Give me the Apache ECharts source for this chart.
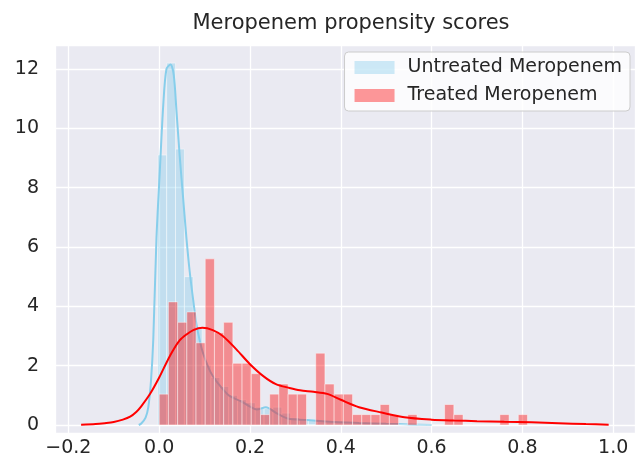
<!DOCTYPE html>
<html>
<head>
<meta charset="utf-8">
<script src="https://cdn.jsdelivr.net/npm/echarts@6/dist/echarts.min.js"></script>
<style>
  html, body { margin: 0; padding: 0; background: #fff; }
  #chart { width: 635px; height: 460px; }
</style>
</head>
<body>
<div id="chart"></div>
<script>
  // treated histogram: 40 equal bins starting at 0.0
  var treatedStart = 0.0
  var treatedWidth = 0.02028
  var treatedHeights = [1.04, 4.15, 3.46, 3.81, 2.77, 5.6, 3.11, 3.46, 2.08, 2.08,
    1.73, 0.35, 1.04, 1.38, 1.04, 1.04, 0, 2.42, 1.38, 1.04,
    1.04, 0.35, 0.35, 0.35, 0.69, 0.35, 0, 0.35, 0, 0,
    0, 0.69, 0.35, 0, 0, 0, 0, 0.35, 0, 0.35]

  // untreated histogram
  var untreatedStart = -0.003
  var untreatedWidth = 0.0195
  var untreatedHeights = [9.1, 12.2, 9.3, 5.0, 3.3, 2.0, 1.6, 1.3, 1.0, 0.85,
    0.75, 0.6, 0.55, 0.6, 0.4, 0.25, 0.2, 0.18, 0.15, 0.1,
    0.12, 0.08, 0.06, 0.05, 0.05, 0.03, 0.03, 0.02]

  // kde curves
  var treatedKdeX = [-0.172, -0.14, -0.12, -0.10, -0.08, -0.064, -0.05, -0.04, -0.02, 0.0,
    0.016, 0.03, 0.045, 0.06, 0.075, 0.095, 0.118, 0.14, 0.17, 0.2,
    0.23, 0.257, 0.287, 0.31, 0.34, 0.37, 0.40, 0.44, 0.49, 0.54,
    0.6, 0.65, 0.7, 0.76, 0.82, 0.88, 0.94, 0.99]
  var treatedKdeY = [0.01, 0.03, 0.06, 0.1, 0.18, 0.28, 0.45, 0.62, 1.05, 1.6,
    2.1, 2.5, 2.85, 3.05, 3.2, 3.28, 3.2, 3.0, 2.55, 2.05,
    1.64, 1.38, 1.25, 1.17, 1.12, 1.05, 0.85, 0.6, 0.42, 0.26,
    0.18, 0.15, 0.13, 0.11, 0.09, 0.06, 0.03, 0.01]

  var untreatedKdeX = [-0.045, -0.039, -0.03, -0.024, -0.018, -0.013, -0.006, 0.0015, 0.009, 0.016,
    0.025, 0.032, 0.038, 0.045, 0.053, 0.06, 0.067, 0.075, 0.082, 0.09,
    0.097, 0.108, 0.118, 0.135, 0.155, 0.18, 0.2, 0.215, 0.235, 0.258,
    0.287, 0.31, 0.34, 0.375, 0.44, 0.5, 0.55, 0.6]
  var untreatedKdeY = [0.0, 0.06, 0.25, 0.6, 1.5, 2.9, 6.3, 8.6, 10.8, 12.0,
    12.15, 11.8, 10.6, 9.1, 7.6, 6.3, 5.2, 4.2, 3.4, 2.8,
    2.4, 1.95, 1.65, 1.3, 0.98, 0.8, 0.62, 0.52, 0.6, 0.4,
    0.2, 0.18, 0.15, 0.11, 0.07, 0.04, 0.02, 0.0]

  var FONT = 'DejaVu Sans'
  var TEXT = '#262626'

  function binData(start, width, heights) {
    return heights.map(function (h, i) {
      return [start + i * width, start + (i + 1) * width, h]
    })
  }

  function pairs(xs, ys) {
    return xs.map(function (x, i) { return [x, ys[i]] })
  }

  function renderBar(params, api) {
    var p0 = api.coord([api.value(0), api.value(2)])
    var p1 = api.coord([api.value(1), 0])
    return {
      type: 'rect',
      shape: { x: p0[0], y: p0[1], width: p1[0] - p0[0], height: p1[1] - p0[1] },
      style: api.style({ stroke: 'rgba(255,255,255,0.45)', lineWidth: 1 })
    }
  }

  var chart = echarts.init(document.getElementById('chart'))
  var option = {
    animation: false,
    backgroundColor: '#ffffff',
    title: {
      text: 'Meropenem propensity scores',
      left: 346,
      textAlign: 'center',
      top: 8,
      textStyle: { fontFamily: FONT, fontSize: 21, fontWeight: 'normal', color: TEXT }
    },
    legend: {
      orient: 'vertical',
      right: 5,
      top: 52,
      data: ['Untreated Meropenem', 'Treated Meropenem'],
      icon: 'rect',
      itemWidth: 40,
      itemHeight: 13,
      itemGap: 9,
      padding: [6, 8, 6, 10],
      backgroundColor: 'rgba(255,255,255,0.8)',
      borderColor: '#cccccc',
      borderWidth: 1,
      borderRadius: 4,
      textStyle: { fontFamily: FONT, fontSize: 19, color: TEXT, padding: [0, 0, 0, 8] }
    },
    grid: {
      left: 55, right: 0, top: 45, bottom: 27,
      show: true, backgroundColor: '#EAEAF2', borderWidth: 0
    },
    xAxis: {
      type: 'value',
      min: -0.2295,
      max: 1.048,
      splitNumber: 6,
      axisLine: { show: false },
      axisTick: { show: false },
      splitLine: { lineStyle: { color: '#ffffff', width: 1.3 } },
      axisLabel: {
        showMinLabel: false, showMaxLabel: false,
        fontFamily: FONT, fontSize: 19, color: TEXT, margin: 6,
        formatter: function (v) {
          return (v < 0 ? '\u2212' : '') + Math.abs(v).toFixed(1)
        }
      }
    },
    yAxis: {
      type: 'value',
      min: -0.27,
      max: 12.81,
      splitNumber: 6,
      axisLine: { show: false },
      axisTick: { show: false },
      splitLine: { lineStyle: { color: '#ffffff', width: 1.3 } },
      axisLabel: {
        showMinLabel: false, showMaxLabel: false,
        fontFamily: FONT, fontSize: 19, color: TEXT, margin: 16,
        formatter: function (v) { return String(Math.round(v)) }
      }
    },
    series: [
      {
        name: 'Untreated Meropenem',
        type: 'custom',
        renderItem: renderBar,
        itemStyle: { color: 'rgba(135,206,235,0.4)' },
        encode: { x: [0, 1], y: 2 },
        data: binData(untreatedStart, untreatedWidth, untreatedHeights),
        z: 2
      },
      {
        name: 'untreated kde',
        type: 'line',
        data: pairs(untreatedKdeX, untreatedKdeY),
        showSymbol: false,
        smooth: 0.3,
        lineStyle: { color: '#87CEEB', width: 2 },
        z: 3
      },
      {
        name: 'Treated Meropenem',
        type: 'custom',
        renderItem: renderBar,
        itemStyle: { color: 'rgba(255,0,0,0.4)' },
        encode: { x: [0, 1], y: 2 },
        data: binData(treatedStart, treatedWidth, treatedHeights),
        z: 4
      },
      {
        name: 'treated kde',
        type: 'line',
        data: pairs(treatedKdeX, treatedKdeY),
        showSymbol: false,
        smooth: 0.3,
        lineStyle: { color: '#ff0000', width: 2 },
        z: 5
      }
    ]
  }
  chart.setOption(option)
</script>
</body>
</html>
